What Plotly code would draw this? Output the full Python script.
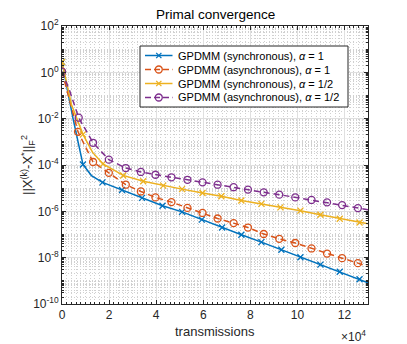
import plotly.graph_objects as go

# ---------------- data ----------------
# x in transmissions, y = ||X(k)-X*||_F^2
sync1_x = [0, 8900, 17200, 25500, 34000, 42700, 51000, 59400, 68000, 76200, 84700, 93200, 101300, 109800, 118000, 126400]
sync1_y = [2.8, 1.05e-4, 1.78e-5, 8.3e-6, 3.8e-6, 1.74e-6, 9.5e-7, 4.4e-7, 2.0e-7, 9.8e-8, 4.7e-8, 2.2e-8, 1.05e-8, 5.0e-9, 2.45e-9, 1.17e-9]
sync1_extra_x = [4700, 12500, 130000]
sync1_extra_y = [1.0e-2, 3.5e-5, 8.3e-10]

async1_x = [0, 6800, 13200, 19900, 27100, 33500, 39700, 46500, 53300, 59700, 66100, 72900, 79000, 85700, 92300, 99100, 106000, 112600, 119000, 125700]
async1_y = [1.07, 2.7e-3, 1.35e-4, 4.6e-5, 1.41e-5, 7.2e-6, 4.0e-6, 2.5e-6, 1.41e-6, 8.5e-7, 4.9e-7, 3.1e-7, 2.0e-7, 1.05e-7, 6.5e-8, 4.3e-8, 2.5e-8, 1.5e-8, 9.5e-9, 5.8e-9]
async1_extra_x = [130000]
async1_extra_y = [4.1e-9]

synch_x = [0, 8900, 17400, 26000, 34500, 43000, 51000, 59700, 67700, 76200, 84700, 92800, 101300, 109800, 118000, 126400]
synch_y = [2.8, 2.1e-3, 1.12e-4, 3.55e-5, 2.0e-5, 1.29e-5, 9.1e-6, 6.2e-6, 4.5e-6, 2.95e-6, 2.1e-6, 1.48e-6, 1.07e-6, 7.1e-7, 4.8e-7, 3.3e-7]
synch_extra_x = [4000, 13000, 130000]
synch_extra_y = [4.1e-2, 3.5e-4, 2.9e-7]

asynch_x = [0, 7100, 13200, 19900, 27100, 33500, 39700, 46500, 53300, 59700, 66100, 72900, 79000, 85700, 92300, 99100, 106000, 112600, 119000, 125700]
asynch_y = [1.07, 1.1e-2, 9.1e-4, 1.7e-4, 7.4e-5, 5.0e-5, 3.8e-5, 2.95e-5, 2.3e-5, 1.78e-5, 1.41e-5, 1.1e-5, 8.7e-6, 6.6e-6, 5.25e-6, 4.0e-6, 3.1e-6, 2.45e-6, 1.86e-6, 1.38e-6]
asynch_extra_x = [3300, 130000]
asynch_extra_y = [0.155, 1.17e-6]

names = ["GPDMM (synchronous), <i>α</i> = 1",
         "GPDMM (asynchronous), <i>α</i> = 1",
         "GPDMM (synchronous), <i>α</i> = 1/2",
         "GPDMM (asynchronous), <i>α</i> = 1/2"]
x_tick_vals = [0, 20000, 40000, 60000, 80000, 100000, 120000]
x_tick_text = ["0", "2", "4", "6", "8", "10", "12"]
y_tick_exps = [-10, -8, -6, -4, -2, 0, 2]

# ---------------- style ----------------
colors = ["#0072BD", "#D95319", "#EDB120", "#7E2F8E"]
dashes = ["solid", "6px,4px", "solid", "6px,4px"]
symbols = ["x-thin", "circle-open", "x-thin", "circle-open"]
msizes = [6, 7, 6, 7]

W, H = 407, 344
ML, MR, MT, MB = 62, 39, 26, 40
PW, PH = W - ML - MR, H - MT - MB

def px(xp):
    return (xp - ML) / PW

def py(yp):
    return (H - MB - yp) / PH

series = [
    (sync1_x, sync1_y, sync1_extra_x, sync1_extra_y),
    (async1_x, async1_y, async1_extra_x, async1_extra_y),
    (synch_x, synch_y, synch_extra_x, synch_extra_y),
    (asynch_x, asynch_y, asynch_extra_x, asynch_extra_y),
]

fig = go.Figure()
for i, (mx, my, ex, ey) in enumerate(series):
    pts = sorted(zip(mx + ex, my + ey))
    fig.add_trace(go.Scatter(
        x=[p[0] for p in pts], y=[p[1] for p in pts], mode="lines",
        line=dict(color=colors[i], width=1.5, dash=dashes[i]),
        showlegend=False, hoverinfo="skip"))
    fig.add_trace(go.Scatter(
        x=mx, y=my, mode="markers", name=names[i], showlegend=False,
        marker=dict(symbol=symbols[i], size=msizes[i], color=colors[i],
                    line=dict(color=colors[i], width=1.3))))

axis_col = "#262626"
grid_col = "#e0e0e0"
minor_grid_col = "#d0d0d0"
minor_dash = "1px,2px"

minor_y = [m * 10.0 ** e for e in range(-10, 2) for m in range(1, 10)
           if not (m == 1 and e % 2 == 0)]

fig.update_xaxes(
    range=[0, 130000], tickvals=x_tick_vals, ticktext=x_tick_text,
    showgrid=True, gridcolor=grid_col, gridwidth=1,
    showline=True, linecolor=axis_col, linewidth=1, mirror="ticks",
    ticks="inside", ticklen=4, tickcolor=axis_col, zeroline=False,
    tickfont=dict(family="Liberation Sans, Arial", size=12, color=axis_col),
    minor=dict(dtick=2000, showgrid=True, gridcolor=minor_grid_col, griddash=minor_dash,
               gridwidth=1, ticks="inside", ticklen=2, tickcolor=axis_col),
)
fig.update_yaxes(
    type="log", range=[-10, 2],
    tickvals=[10.0 ** e for e in y_tick_exps],
    ticktext=["10<sup>%d</sup>" % e for e in y_tick_exps],
    showgrid=True, gridcolor=grid_col, gridwidth=1,
    showline=True, linecolor=axis_col, linewidth=1, mirror="ticks",
    ticks="inside", ticklen=4, tickcolor=axis_col, zeroline=False,
    tickfont=dict(family="Liberation Sans, Arial", size=12, color=axis_col),
    minor=dict(tickvals=minor_y, showgrid=True, gridcolor=minor_grid_col, griddash=minor_dash,
               gridwidth=1, ticks="inside", ticklen=2, tickcolor=axis_col),
)

font_fam = "Liberation Sans, Arial"
annotations = [
    dict(text="Primal convergence", x=0.5, y=py(14), xref="paper", yref="paper",
         showarrow=False, font=dict(family=font_fam, size=13.5, color="#000000"),
         xanchor="center", yanchor="middle"),
    dict(text="transmissions", x=0.5, y=py(331), xref="paper", yref="paper",
         showarrow=False, font=dict(family=font_fam, size=13, color=axis_col),
         xanchor="center", yanchor="middle"),
    dict(text="×10<sup>4</sup>", x=1.0, y=py(336), xref="paper", yref="paper",
         showarrow=False, font=dict(family=font_fam, size=12, color=axis_col),
         xanchor="right", yanchor="middle"),
    dict(text="||X<sup>(k)</sup>-X<sup>*</sup>||<sub>F</sub><sup>2</sup>",
         x=px(28), y=0.5, xref="paper", yref="paper", textangle=-90,
         showarrow=False, font=dict(family=font_fam, size=13, color=axis_col),
         xanchor="center", yanchor="middle"),
]

# manual legend (MATLAB-style compact box)
shapes = [dict(type="rect", xref="paper", yref="paper",
               x0=px(140), x1=px(348), y0=py(107), y1=py(46),
               fillcolor="white", line=dict(color=axis_col, width=1), layer="above")]
entry_y = [55.5, 69.5, 83.5, 97.5]
for i in range(4):
    yy = entry_y[i]
    shapes.append(dict(type="line", xref="paper", yref="paper",
                       x0=px(145), x1=px(172.5), y0=py(yy), y1=py(yy),
                       line=dict(color=colors[i], width=1.5, dash=dashes[i] if i % 2 == 0 else "6px,3px"),
                       layer="above"))
    cx = 158.8
    if symbols[i] == "circle-open":
        r = 3.5
        shapes.append(dict(type="circle", xref="paper", yref="paper",
                           x0=px(cx - r), x1=px(cx + r), y0=py(yy + r), y1=py(yy - r),
                           fillcolor="rgba(0,0,0,0)",
                           line=dict(color=colors[i], width=1.3), layer="above"))
    else:
        d = 2.6
        path = "M %f,%f L %f,%f M %f,%f L %f,%f" % (
            px(cx - d), py(yy - d), px(cx + d), py(yy + d),
            px(cx - d), py(yy + d), px(cx + d), py(yy - d))
        shapes.append(dict(type="path", xref="paper", yref="paper", path=path,
                           line=dict(color=colors[i], width=1.3), layer="above"))
    annotations.append(dict(text=names[i], x=px(176), y=py(yy), xref="paper", yref="paper",
                            showarrow=False, xanchor="left", yanchor="middle",
                            font=dict(family=font_fam, size=11, color="#000000")))

fig.update_layout(
    width=W, height=H, autosize=False,
    margin=dict(l=ML, r=MR, t=MT, b=MB, pad=0),
    paper_bgcolor="white", plot_bgcolor="white",
    showlegend=False,
    annotations=annotations, shapes=shapes,
    font=dict(family=font_fam),
)

fig.write_html("out.html", config={"displayModeBar": False},
               post_script="document.body.style.margin='0';document.body.style.overflow='hidden';")
